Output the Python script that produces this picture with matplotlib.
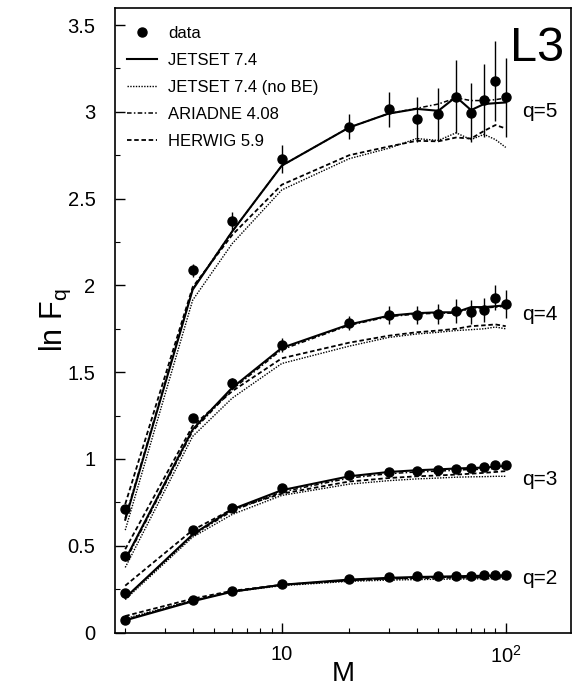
import matplotlib
matplotlib.use("Agg")
from matplotlib import pyplot as plt
from matplotlib.lines import Line2D
from matplotlib.ticker import FixedLocator, MultipleLocator, LogLocator, NullFormatter

plt.rcParams['font.family'] = ['Liberation Sans', 'DejaVu Sans']
plt.rcParams['mathtext.fontset'] = 'custom'
plt.rcParams['mathtext.rm'] = 'Liberation Sans'
plt.rcParams['mathtext.it'] = 'Liberation Sans'

M = [2, 4, 6, 10, 20, 30, 40, 50, 60, 70, 80, 90, 100]

# data, q = 2..5
data_q2 = [0.075, 0.19, 0.24, 0.28, 0.31, 0.32, 0.325, 0.325, 0.327, 0.328, 0.33, 0.33, 0.33]
data_q3 = [0.225, 0.593, 0.72, 0.83, 0.905, 0.925, 0.933, 0.938, 0.944, 0.948, 0.952, 0.965, 0.965]
data_q4 = [0.44, 1.236, 1.437, 1.658, 1.783, 1.83, 1.83, 1.835, 1.854, 1.845, 1.86, 1.93, 1.894]
data_q5 = [0.714, 2.086, 2.37, 2.727, 2.914, 3.014, 2.956, 2.99, 3.086, 2.996, 3.067, 3.179, 3.083]

err_q2 = [0.005, 0.005, 0.005, 0.005, 0.006, 0.007, 0.008, 0.008, 0.009, 0.01, 0.01, 0.011, 0.012]
err_q3 = [0.01, 0.01, 0.01, 0.012, 0.015, 0.015, 0.017, 0.018, 0.02, 0.02, 0.022, 0.022, 0.025]
err_q4 = [0.015, 0.02, 0.03, 0.04, 0.04, 0.05, 0.05, 0.06, 0.07, 0.07, 0.07, 0.07, 0.08]
err_q5 = [0.02, 0.04, 0.055, 0.08, 0.073, 0.10, 0.13, 0.15, 0.21, 0.17, 0.21, 0.23, 0.23]

# JETSET 7.4
jet_q2 = [0.07, 0.18, 0.235, 0.275, 0.305, 0.315, 0.32, 0.322, 0.324, 0.326, 0.327, 0.328, 0.33]
jet_q3 = [0.20, 0.565, 0.71, 0.82, 0.90, 0.925, 0.935, 0.94, 0.945, 0.948, 0.95, 0.955, 0.96]
jet_q4 = [0.42, 1.17, 1.41, 1.64, 1.775, 1.825, 1.84, 1.845, 1.845, 1.875, 1.875, 1.88, 1.885]
jet_q5 = [0.65, 1.975, 2.31, 2.69, 2.91, 2.99, 3.017, 3.006, 3.086, 3.01, 3.045, 3.05, 3.054]

# JETSET 7.4 (no BE)
nobe_q2 = [0.08, 0.185, 0.235, 0.27, 0.295, 0.302, 0.305, 0.307, 0.308, 0.309, 0.31, 0.31, 0.31]
nobe_q3 = [0.19, 0.55, 0.68, 0.79, 0.855, 0.875, 0.885, 0.89, 0.895, 0.897, 0.898, 0.90, 0.90]
nobe_q4 = [0.375, 1.13, 1.35, 1.55, 1.65, 1.70, 1.72, 1.73, 1.74, 1.745, 1.75, 1.76, 1.75]
nobe_q5 = [0.59, 1.915, 2.24, 2.55, 2.73, 2.79, 2.846, 2.835, 2.879, 2.84, 2.87, 2.84, 2.795]

# ARIADNE 4.08
ari_q2 = [0.075, 0.185, 0.235, 0.275, 0.30, 0.31, 0.315, 0.318, 0.32, 0.32, 0.322, 0.323, 0.325]
ari_q3 = [0.20, 0.56, 0.70, 0.81, 0.89, 0.915, 0.925, 0.93, 0.935, 0.94, 0.94, 0.945, 0.95]
ari_q4 = [0.41, 1.16, 1.40, 1.63, 1.77, 1.82, 1.835, 1.84, 1.84, 1.87, 1.87, 1.875, 1.88]
ari_q5 = [0.66, 1.98, 2.31, 2.69, 2.91, 2.99, 3.02, 3.045, 3.08, 3.065, 3.065, 3.07, 3.08]

# HERWIG 5.9
her_q2 = [0.095, 0.195, 0.24, 0.275, 0.30, 0.31, 0.313, 0.315, 0.316, 0.317, 0.318, 0.32, 0.32]
her_q3 = [0.27, 0.59, 0.71, 0.80, 0.87, 0.89, 0.90, 0.905, 0.91, 0.915, 0.92, 0.925, 0.93]
her_q4 = [0.48, 1.19, 1.39, 1.58, 1.67, 1.71, 1.73, 1.74, 1.75, 1.765, 1.77, 1.775, 1.765]
her_q5 = [0.74, 1.99, 2.29, 2.58, 2.75, 2.80, 2.833, 2.83, 2.852, 2.846, 2.89, 2.924, 2.904]

q_labels = ['q=2', 'q=3', 'q=4', 'q=5']
q_label_y = [0.31, 0.88, 1.83, 3.0]

fig = plt.figure(figsize=(5.75, 6.87), dpi=100)
ax = fig.add_axes([0.2, 0.0793, 0.7925, 0.9095])

datas = [data_q2, data_q3, data_q4, data_q5]
errs = [err_q2, err_q3, err_q4, err_q5]
jets = [jet_q2, jet_q3, jet_q4, jet_q5]
nobes = [nobe_q2, nobe_q3, nobe_q4, nobe_q5]
aris = [ari_q2, ari_q3, ari_q4, ari_q5]
hers = [her_q2, her_q3, her_q4, her_q5]

ls_nobe = (0, (1, 1))
ls_her = (0, (2.5, 1.5))
ls_ari = (0, (3, 1.5, 1, 1.5))

for i in range(4):
    ax.plot(M, nobes[i], color='k', lw=1.0, linestyle=ls_nobe, zorder=2)
    ax.plot(M, hers[i], color='k', lw=1.3, linestyle=ls_her, zorder=2)
    ax.plot(M, aris[i], color='k', lw=1.1, linestyle=ls_ari, zorder=2)
    ax.plot(M, jets[i], color='k', lw=1.5, linestyle='-', zorder=3)
    ax.errorbar(M, datas[i], yerr=errs[i], fmt='o', color='k', ms=6.5,
                elinewidth=1.0, capsize=0, zorder=4)
    ax.text(118, q_label_y[i], q_labels[i], fontsize=15, va='center', ha='left')

ax.text(0.985, 0.971, 'L3', transform=ax.transAxes, fontsize=35,
        ha='right', va='top')

ax.set_xscale('log')
ax.set_xlim(1.8, 195)
ax.set_ylim(0, 3.6)

ax.xaxis.set_major_locator(FixedLocator([10, 100]))
ax.set_xticklabels(['10', r'$\mathregular{10^2}$'])
ax.xaxis.set_minor_locator(LogLocator(base=10, subs=range(2, 10)))
ax.xaxis.set_minor_formatter(NullFormatter())
ax.yaxis.set_minor_locator(MultipleLocator(0.25))
ax.set_yticks([0, 0.5, 1, 1.5, 2, 2.5, 3, 3.5])
ax.set_yticklabels(['0', '0.5', '1', '1.5', '2', '2.5', '3', '3.5'])

ax.tick_params(which='major', direction='in', length=7, width=1, labelsize=14.5)
ax.tick_params(which='minor', direction='in', length=3.5, width=0.8)
ax.tick_params(axis='x', which='major', pad=9)
ax.tick_params(axis='y', which='major', pad=14)
for s in ax.spines.values():
    s.set_linewidth(1.2)

ax.set_xlabel('M', fontsize=20)
ax.xaxis.set_label_coords(0.5, -0.046)
ax.set_ylabel(r'ln F$_\mathregular{q}$', fontsize=22)
ax.yaxis.set_label_coords(-0.092, 0.5)

handles = [
    Line2D([], [], color='k', marker='o', ms=6.5, linestyle='none'),
    Line2D([], [], color='k', lw=1.5, linestyle='-'),
    Line2D([], [], color='k', lw=1.0, linestyle=ls_nobe),
    Line2D([], [], color='k', lw=1.1, linestyle=ls_ari),
    Line2D([], [], color='k', lw=1.3, linestyle=ls_her),
]
labels = ['data', 'JETSET 7.4', 'JETSET 7.4 (no BE)', 'ARIADNE 4.08', 'HERWIG 5.9']
ax.legend(handles, labels, loc='upper left', frameon=False,
          fontsize=12, handlelength=1.8, handletextpad=0.7, labelspacing=0.72,
          borderaxespad=0.3, bbox_to_anchor=(0.0, 0.99))

fig.savefig('out.png', dpi=100)
